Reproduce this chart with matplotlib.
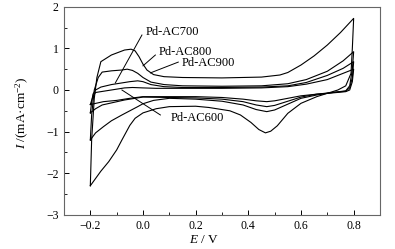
"""
Cyclic voltammograms of the Pd-AC catalysts
"""
import matplotlib
matplotlib.use("Agg")
import matplotlib.pyplot as plt
from matplotlib.ticker import MultipleLocator

plt.rcParams["font.family"] = ["Liberation Serif", "DejaVu Serif"]
plt.rcParams["mathtext.fontset"] = "custom"
plt.rcParams["mathtext.rm"] = "Liberation Serif"
plt.rcParams["mathtext.it"] = "Liberation Serif:italic"

# ---- data (E / V, I / mA cm-2) ----
# Pd-AC800 (largest loop)
E800_fwd = [-0.2, -0.195, -0.185, -0.175, -0.16, -0.12, -0.07, -0.045, -0.03,
            -0.015, 0.0, 0.015, 0.04, 0.08, 0.15, 0.3, 0.45, 0.52, 0.55, 0.6, 0.65,
            0.7, 0.75, 0.8]
I800_fwd = [-2.3, -1.2, -0.2, 0.3, 0.68, 0.84, 0.96, 0.98, 0.94,
            0.8, 0.62, 0.48, 0.37, 0.32, 0.3, 0.29, 0.31, 0.36, 0.42, 0.6, 0.82,
            1.08, 1.38, 1.72]
E800_rev = [0.8, 0.795, 0.79, 0.77, 0.74, 0.66, 0.6, 0.55, 0.51, 0.485, 0.465, 0.44,
            0.41, 0.37, 0.33, 0.25, 0.2, 0.1, 0.05, 0.0, -0.03, -0.05, -0.08, -0.1,
            -0.13, -0.16, -0.2]
I800_rev = [1.72, 1.0, 0.4, 0.1, 0.0, -0.16, -0.32, -0.56, -0.86, -0.99, -1.03, -0.95,
            -0.78, -0.6, -0.5, -0.42, -0.39, -0.4, -0.45, -0.55, -0.68, -0.85, -1.2, -1.44,
            -1.72, -1.95, -2.3]

# Pd-AC900
E900_fwd = [-0.2, -0.195, -0.185, -0.17, -0.155, -0.12, -0.08, -0.06, -0.04, -0.02,
            0.0, 0.03, 0.08, 0.15, 0.3, 0.45, 0.55, 0.62, 0.7, 0.76, 0.8]
I900_fwd = [-1.2, -0.6, 0.0, 0.3, 0.43, 0.46, 0.48, 0.5, 0.47, 0.4,
            0.3, 0.19, 0.13, 0.1, 0.09, 0.1, 0.15, 0.25, 0.45, 0.7, 0.92]
E900_rev = [0.8, 0.795, 0.785, 0.77, 0.72, 0.66, 0.6, 0.55, 0.5, 0.47, 0.43, 0.38,
            0.3, 0.2, 0.1, 0.04, 0.0, -0.02, -0.05, -0.08, -0.12, -0.15, -0.18, -0.2]
I900_rev = [0.92, 0.5, 0.1, -0.02, -0.06, -0.12, -0.2, -0.34, -0.48, -0.52, -0.47, -0.36,
            -0.27, -0.22, -0.2, -0.25, -0.33, -0.4, -0.5, -0.6, -0.74, -0.88, -1.03, -1.2]

# Pd-AC700
E700_fwd = [-0.2, -0.195, -0.19, -0.18, -0.16, -0.12, -0.08, -0.05, -0.02, 0.0,
            0.03, 0.08, 0.15, 0.3, 0.45, 0.55, 0.62, 0.7, 0.76, 0.8]
I700_fwd = [-0.55, -0.3, -0.1, 0.0, 0.07, 0.13, 0.17, 0.2, 0.22, 0.2,
            0.13, 0.08, 0.06, 0.06, 0.07, 0.1, 0.18, 0.35, 0.52, 0.68]
E700_rev = [0.8, 0.795, 0.785, 0.77, 0.72, 0.66, 0.6, 0.55, 0.5, 0.47, 0.43, 0.38,
            0.3, 0.2, 0.1, 0.0, -0.07, -0.155, -0.18, -0.2]
I700_rev = [0.68, 0.3, 0.05, -0.03, -0.06, -0.1, -0.17, -0.27, -0.37, -0.4, -0.36, -0.28,
            -0.22, -0.19, -0.18, -0.17, -0.24, -0.36, -0.45, -0.55]

# Pd-AC600
E600_fwd = [-0.2, -0.19, -0.18, -0.15, -0.1, -0.07, -0.04, 0.0, 0.05, 0.15, 0.3,
            0.45, 0.55, 0.62, 0.7, 0.76, 0.8]
I600_fwd = [-0.35, -0.15, -0.06, -0.03, 0.02, 0.05, 0.06, 0.05, 0.04, 0.04, 0.04,
            0.05, 0.08, 0.14, 0.25, 0.4, 0.5]
E600_rev = [0.8, 0.795, 0.785, 0.77, 0.72, 0.66, 0.6, 0.55, 0.5, 0.47, 0.43, 0.38,
            0.3, 0.2, 0.1, 0.0, -0.05, -0.1, -0.15, -0.2]
I600_rev = [0.5, 0.2, 0.0, -0.04, -0.07, -0.1, -0.14, -0.2, -0.26, -0.28, -0.26, -0.22,
            -0.18, -0.16, -0.16, -0.16, -0.2, -0.25, -0.28, -0.35]

SERIES = [
    (E800_fwd + E800_rev, I800_fwd + I800_rev),
    (E900_fwd + E900_rev, I900_fwd + I900_rev),
    (E700_fwd + E700_rev, I700_fwd + I700_rev),
    (E600_fwd + E600_rev, I600_fwd + I600_rev),
]

# label text, text position, leader line start and end
LABELS = ["Pd-AC700", "Pd-AC800", "Pd-AC900", "Pd-AC600"]
LABEL_XY = [(0.01, 1.39), (0.058, 0.92), (0.145, 0.66), (0.104, -0.68)]
LEADER_START = [(-0.004, 1.32), (0.047, 0.84), (0.134, 0.67), (0.066, -0.6)]
LEADER_END = [(-0.105, 0.17), (0.0, 0.58), (0.028, 0.41), (-0.08, 0.0)]


def draw_plot():
    """ Draws the CV loops and the labelled leader lines. """
    fig = plt.figure(figsize=[3.95, 2.49], dpi=100, facecolor="white")
    ax = fig.add_axes([0.162, 0.137, 0.8, 0.836])

    for e_vals, i_vals in SERIES:
        ax.plot(e_vals, i_vals, color="black", lw=0.8)

    for text, pos, start, end in zip(LABELS, LABEL_XY, LEADER_START, LEADER_END):
        ax.plot([start[0], end[0]], [start[1], end[1]], color="black", lw=0.7)
        ax.text(pos[0], pos[1], text, fontsize=9, ha="left", va="center")

    ax.set_xlim(-0.3, 0.9)
    ax.set_ylim(-3, 2)
    ax.xaxis.set_minor_locator(MultipleLocator(0.1))
    ax.yaxis.set_minor_locator(MultipleLocator(0.5))
    ax.set_xticks([-0.2, 0.0, 0.2, 0.4, 0.6, 0.8])
    ax.set_xticklabels(["\u22120.2", "0.0", "0.2", "0.4", "0.6", "0.8"])
    ax.set_yticks([-3, -2, -1, 0, 1, 2])
    ax.set_yticklabels(["\u22123", "\u22122", "\u22121", "0", "1", "2"])
    ax.tick_params(which="both", direction="in", top=False, right=False,
                   labelsize=8.5, pad=4)
    ax.tick_params(which="major", length=3.5, width=0.7)
    ax.tick_params(which="minor", length=2, width=0.6)
    for spine in ax.spines.values():
        spine.set_color("#666666")
        spine.set_linewidth(0.8)

    ax.set_xlabel("$E$ / V", fontsize=9.5)
    ax.xaxis.set_label_coords(0.443, -0.09)
    ax.set_ylabel("$I$ /(mA\u00b7cm$^{\u22122}$)", fontsize=9.5)
    ax.yaxis.set_label_coords(-0.105, 0.49)

    fig.savefig("out.png", dpi=100)
    plt.close(fig)


if __name__ == "__main__":
    draw_plot()
